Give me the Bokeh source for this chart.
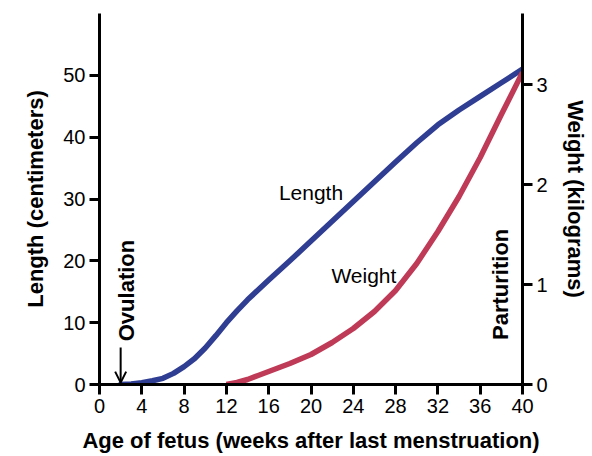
from bokeh.plotting import figure
from bokeh.models import Range1d, LinearAxis, FixedTicker, Arrow, OpenHead, Label
from bokeh.embed import file_html
from bokeh.resources import INLINE

# ---- data ----
length_weeks = [2, 3, 4, 5, 6, 7, 8, 9, 10, 11, 12, 13, 14, 16, 18, 20, 22, 24, 26, 28, 30, 32, 34, 36, 38, 40]
length_cm = [0, 0.1, 0.3, 0.6, 1.0, 1.8, 2.9, 4.2, 5.9, 7.9, 10.0, 11.9, 13.7, 16.9, 20.0, 23.2, 26.4,
             29.6, 32.8, 36.0, 39.1, 42.0, 44.4, 46.6, 48.8, 51.0]
weight_weeks = [12, 13, 14, 15, 16, 18, 20, 22, 24, 26, 28, 30, 32, 34, 36, 38, 40]
weight_kg = [0, 0.02, 0.05, 0.09, 0.13, 0.21, 0.30, 0.42, 0.56, 0.73, 0.94, 1.21, 1.53, 1.88,
             2.27, 2.70, 3.12]
x_ticks = [0, 4, 8, 12, 16, 20, 24, 28, 32, 36, 40]
length_ticks = [0, 10, 20, 30, 40, 50]
weight_ticks = [0, 1, 2, 3]
ovulation_week = 2
parturition_week = 40

FONT = "Liberation Sans"
BLUE = "#2f3d92"
RED = "#bf3a56"

p = figure(width=592, height=456, output_backend="svg", toolbar_location=None,
           x_range=Range1d(0, 40), y_range=Range1d(0, 60),
           min_border_left=99, min_border_right=70, min_border_top=13, min_border_bottom=72)
p.extra_y_ranges = {"w": Range1d(0, 3.71)}
p.outline_line_color = None
p.xgrid.visible = False
p.ygrid.visible = False
p.background_fill_color = "white"
p.border_fill_color = "white"

right = LinearAxis(y_range_name="w")
p.add_layout(right, "right")

p.xaxis.ticker = FixedTicker(ticks=x_ticks)
p.yaxis[0].ticker = FixedTicker(ticks=length_ticks)
right.ticker = FixedTicker(ticks=weight_ticks)

p.xaxis.axis_label = "Age of fetus (weeks after last menstruation)"
p.yaxis[0].axis_label = "Length (centimeters)"
right.axis_label = "Weight (kilograms)"

for ax in [p.xaxis[0], p.yaxis[0], right]:
    ax.axis_line_width = 3
    ax.axis_line_color = "black"
    ax.major_tick_line_width = 3
    ax.major_tick_line_color = "black"
    ax.major_tick_out = 10
    ax.major_tick_in = 0
    ax.minor_tick_line_color = None
    ax.major_label_text_font = FONT
    ax.major_label_text_font_size = "20px"
    ax.major_label_text_color = "black"
    ax.major_label_standoff = 4
    ax.axis_label_text_font = FONT
    ax.axis_label_text_font_size = "22px"
    ax.axis_label_text_font_style = "bold"
    ax.axis_label_text_color = "black"
    ax.axis_label_standoff = 12

p.line(length_weeks, length_cm, line_width=5.5, line_color=BLUE, line_join="round", line_cap="round")
p.line(weight_weeks, weight_kg, y_range_name="w", line_width=5.5, line_color=RED,
       line_join="round", line_cap="butt")

p.add_layout(Label(x=20, y=31, text="Length", text_font=FONT, text_font_size="21px",
                   text_align="center", text_baseline="alphabetic", text_color="black"))
p.add_layout(Label(x=25, y=17.6, text="Weight", text_font=FONT, text_font_size="21px",
                   text_align="center", text_baseline="alphabetic", text_color="black"))
p.add_layout(Label(x=ovulation_week + 0.55, y=15.2, text="Ovulation", angle=1.5708,
                   text_font=FONT, text_font_size="22px", text_font_style="bold",
                   text_align="center", text_baseline="alphabetic", text_color="black"))
p.add_layout(Label(x=parturition_week - 2.1, y=16.2, text="Parturition", angle=1.5708,
                   text_font=FONT, text_font_size="22px", text_font_style="bold",
                   text_align="center", text_baseline="alphabetic", text_color="black"))
p.add_layout(Arrow(x_start=ovulation_week, y_start=6, x_end=ovulation_week, y_end=0.3,
                   line_width=2, line_color="black",
                   end=OpenHead(size=11, line_width=2, line_color="black")))

open("out.html", "w").write(file_html(p, INLINE))
